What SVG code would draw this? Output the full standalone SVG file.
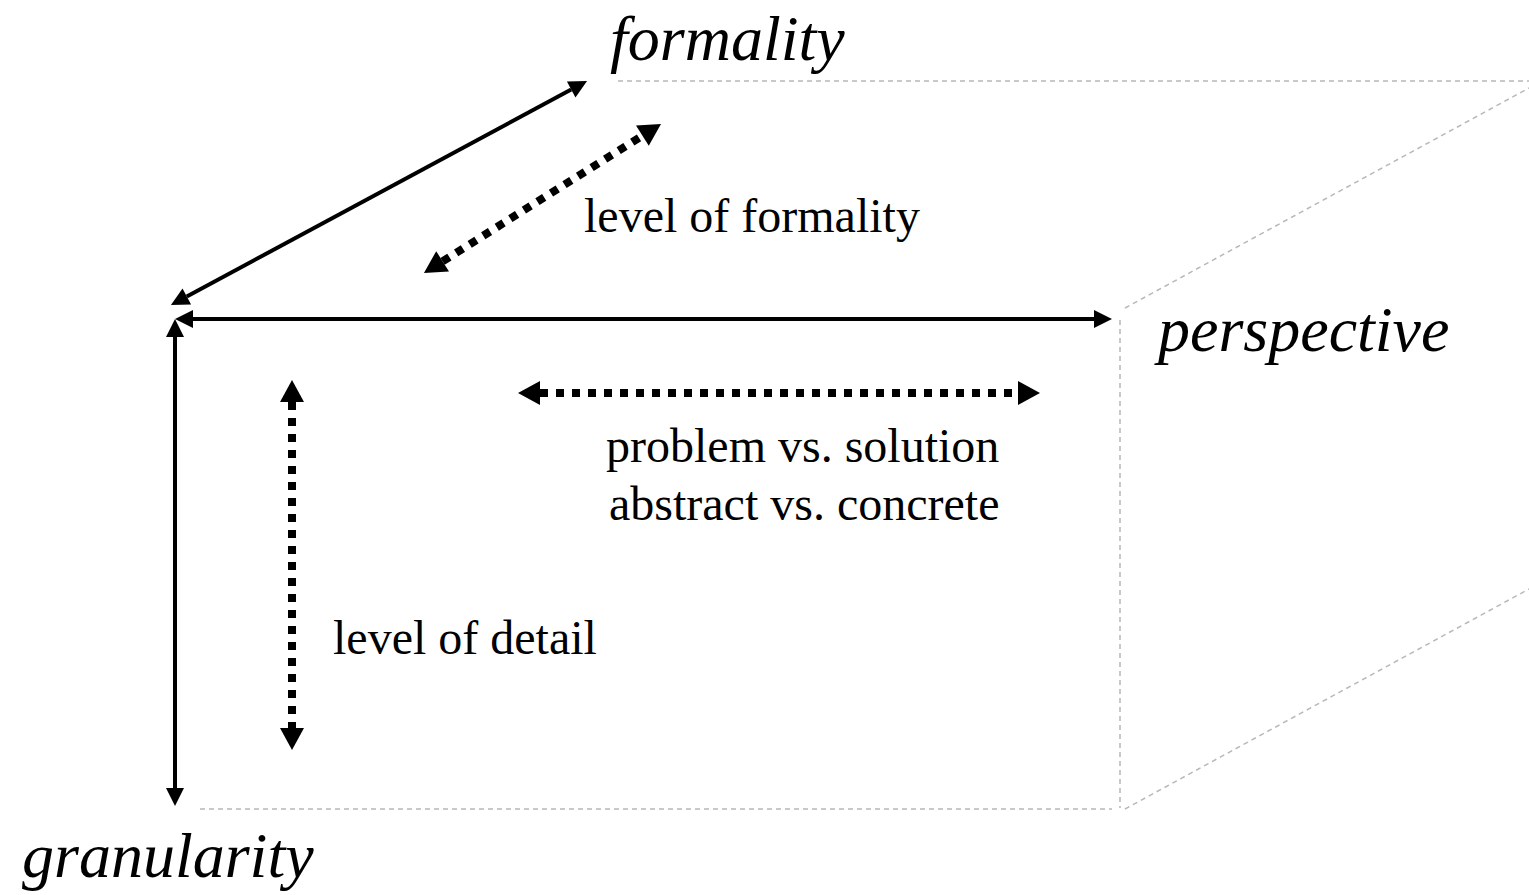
<svg xmlns="http://www.w3.org/2000/svg" width="1529" height="895" viewBox="0 0 1529 895">
  <style>
    .axis { stroke: #000; stroke-width: 4; fill: none; }
    .dots { stroke: #000; stroke-width: 8; stroke-dasharray: 8 8; fill: none; }
    .edge { stroke: #b8b8b8; stroke-width: 1.5; stroke-dasharray: 5 4; fill: none; }
    .axis-label { font-family: "Liberation Serif", "Times New Roman", serif; font-style: italic; font-size: 64px; fill: #000; }
    .label { font-family: "Liberation Serif", "Times New Roman", serif; font-size: 48px; fill: #000; }
  </style>
  <defs>
    <marker id="head" markerUnits="userSpaceOnUse" markerWidth="20" markerHeight="20" refX="0" refY="9" orient="auto-start-reverse" overflow="visible">
      <path d="M0,0 L18,9 L0,18 Z" fill="#000"/>
    </marker>
    <marker id="head-dot" markerUnits="userSpaceOnUse" markerWidth="26" markerHeight="26" refX="0" refY="12" orient="auto-start-reverse" overflow="visible">
      <path d="M0,0 L22,12 L0,24 Z" fill="#000"/>
    </marker>
  </defs>

  <!-- faint box edges receding in depth -->
  <g id="box-edges">
    <line class="edge" x1="618" y1="81" x2="1529" y2="81"/>
    <line class="edge" x1="1125" y1="308" x2="1529" y2="88"/>
    <line class="edge" x1="1120" y1="320" x2="1120" y2="808"/>
    <line class="edge" x1="200" y1="809" x2="1112" y2="809"/>
    <line class="edge" x1="1125" y1="809" x2="1529" y2="589"/>
  </g>

  <!-- axes and ranges -->
  <g id="connectors">
    <line class="axis" x1="193" y1="319" x2="1094" y2="319" marker-start="url(#head)" marker-end="url(#head)"/>
    <line class="axis" x1="175" y1="337" x2="175" y2="788" marker-start="url(#head)" marker-end="url(#head)"/>
    <line class="axis" x1="186.8" y1="296.5" x2="571.2" y2="89.5" marker-start="url(#head)" marker-end="url(#head)"/>
    <line class="dots" x1="442.6" y1="261.3" x2="642.4" y2="135.7" marker-start="url(#head-dot)" marker-end="url(#head-dot)"/>
    <line class="dots" x1="540" y1="393" x2="1018" y2="393" marker-start="url(#head-dot)" marker-end="url(#head-dot)"/>
    <line class="dots" x1="292" y1="402" x2="292" y2="728" marker-start="url(#head-dot)" marker-end="url(#head-dot)"/>
  </g>

  <g id="formality">
    <text class="axis-label" x="610" y="60">formality</text>
  </g>
  <g id="perspective">
    <text class="axis-label" x="1158" y="351">perspective</text>
  </g>
  <g id="granularity">
    <text class="axis-label" x="22" y="877">granularity</text>
  </g>
  <g id="level-of-formality">
    <text class="label" x="584" y="232">level of formality</text>
  </g>
  <g id="problem-solution">
    <text class="label" x="606" y="462">problem vs. solution</text>
    <text class="label" x="609" y="520">abstract vs. concrete</text>
  </g>
  <g id="level-of-detail">
    <text class="label" x="333" y="654">level of detail</text>
  </g>
</svg>
